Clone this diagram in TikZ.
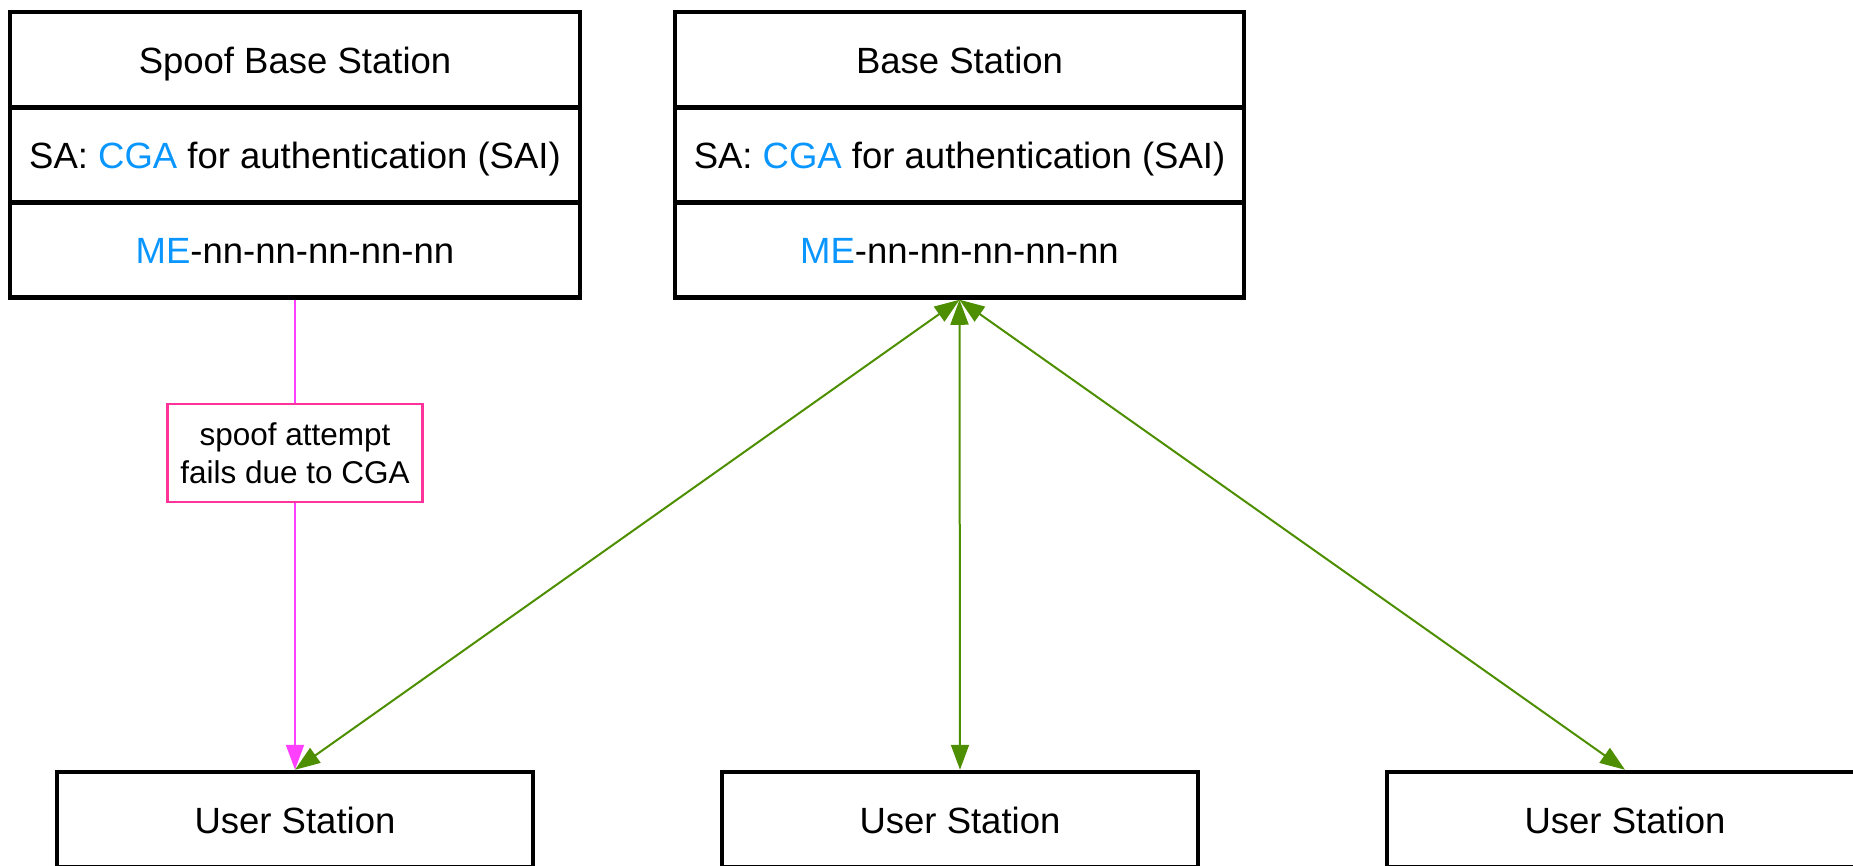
\documentclass[tikz,border=0pt]{standalone}
\usepackage{fontspec}
\setmainfont{Liberation Sans}
\usetikzlibrary{arrows.meta}
\definecolor{cgablue}{RGB}{10,150,255}
\definecolor{lgreen}{RGB}{77,143,0}
\definecolor{spoofmag}{RGB}{255,64,255}
\definecolor{labpink}{RGB}{255,51,153}
\tikzset{
  rowbox/.style={draw=black, line width=4.5pt, rectangle, minimum width=570pt, minimum height=95pt, inner sep=0pt, font=\fontsize{36.5}{44}\selectfont, text height=27pt, text depth=0pt, fill=white},
  userbox/.style={draw=black, line width=4.5pt, rectangle, minimum width=476pt, minimum height=95pt, inner sep=0pt, font=\fontsize{36.5}{44}\selectfont, text height=27pt, text depth=0pt, fill=white},
  labbox/.style={draw=labpink, line width=2.5pt, rectangle, minimum width=255pt, minimum height=98pt, inner sep=0pt, align=center, font=\fontsize{31.5}{38}\selectfont, fill=white},
  magline/.style={draw=spoofmag, line width=2pt},
  gline/.style={draw=lgreen, line width=2pt, {Triangle[length=25pt,width=18pt]}-{Triangle[length=25pt,width=18pt]}},
  blu/.style={text=cgablue}
}
\begin{document}
\begin{tikzpicture}[x=1pt,y=-1pt]
\useasboundingbox (0,0) rectangle (1853,865);
\clip (0,0) rectangle (1853,865);
% spoof base station
\node[rowbox] (s1) at (295,59.5) {Spoof Base Station};
\node[rowbox] (s2) at (295,155) {SA: \textcolor{cgablue}{CGA} for authentication (SAI)};
\node[rowbox] (s3) at (295,250) {\textcolor{cgablue}{ME}-nn-nn-nn-nn-nn};
% base station
\node[rowbox, minimum width=569pt] (b1) at (959.5,59.5) {Base Station};
\node[rowbox, minimum width=569pt] (b2) at (959.5,155) {SA: \textcolor{cgablue}{CGA} for authentication (SAI)};
\node[rowbox, minimum width=569pt] (b3) at (959.5,250) {\textcolor{cgablue}{ME}-nn-nn-nn-nn-nn};
% user stations
\node[userbox] (u1) at (295,819.5) {User Station};
\node[userbox] (u2) at (960,819.5) {User Station};
\node[userbox] (u3) at (1625,819.5) {User Station};
% label
\node[labbox] (lab) at (295,453) {spoof attempt\\fails due to CGA};
% connectors
\draw[magline] (s3.south) -- (lab.north);
\draw[magline, -{Triangle[length=25pt,width=18pt]}] (lab.south) -- (u1.north);
\draw[gline] (b3.south) -- (u1.north);
\draw[gline] (b3.south) -- (u2.north);
\draw[gline] (b3.south) -- (u3.north);
\end{tikzpicture}
\end{document}
